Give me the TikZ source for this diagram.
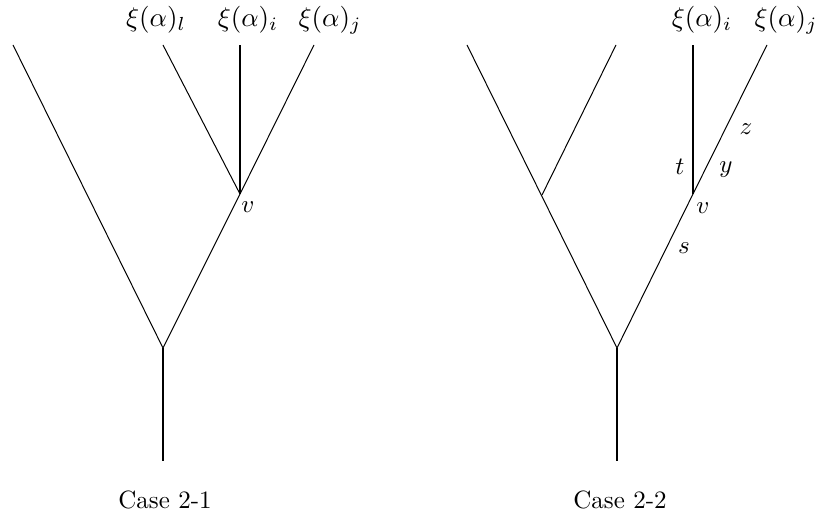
\documentclass[tikz,border=0pt]{standalone}
\begin{document}
\begin{tikzpicture}[x=0.4pt,y=-0.4pt]
    \useasboundingbox (0,0) rectangle (821,525);
    \tikzset{leaflabel/.style={scale=1.08}}
    % Case 2-1
    \coordinate (Ar) at (163,461);
    \coordinate (Aj) at (163,348);
    \coordinate (Av) at (240,194);
    \coordinate (Aa) at (13,45);
    \coordinate (Al) at (163,45);
    \coordinate (Ai) at (240,45);
    \coordinate (Aj2) at (314,45);
    \draw[thick] (Ar)--(Aj);
    \draw (Aa)--(Aj)--(Av)--(Aj2);
    \draw (Al)--(Av);
    \draw[thick] (Av)--(Ai);
    \node[leaflabel] at (156,20) {$\xi(\alpha)_l$};
    \node[leaflabel] at (248,20) {$\xi(\alpha)_i$};
    \node[leaflabel] at (330,20) {$\xi(\alpha)_j$};
    \node at (248,207) {$v$};
    \node at (165,500) {Case 2-1};
    % Case 2-2
    \coordinate (Br) at (617,461);
    \coordinate (Bj) at (617,348);
    \coordinate (Bw) at (542,195);
    \coordinate (Bv) at (693,194);
    \coordinate (Ba) at (467,45);
    \coordinate (Bb) at (616,45);
    \coordinate (Bi) at (693,45);
    \coordinate (Bj2) at (767,45);
    \draw[thick] (Br)--(Bj);
    \draw (Ba)--(Bj)--(Bv)--(Bj2);
    \draw (Bw)--(Bb);
    \draw[thick] (Bv)--(Bi);
    \node[leaflabel] at (702,20) {$\xi(\alpha)_i$};
    \node[leaflabel] at (786,20) {$\xi(\alpha)_j$};
    \node at (703,208) {$v$};
    \node at (680,167) {$t$};
    \node at (726,170) {$y$};
    \node at (746,129) {$z$};
    \node at (684,248) {$s$};
    \node at (620,500) {Case 2-2};
\end{tikzpicture}
\end{document}
